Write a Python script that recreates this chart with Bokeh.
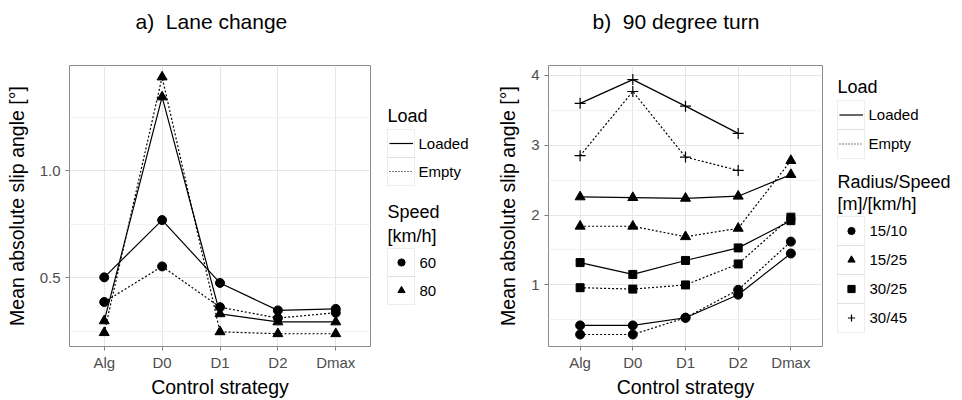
import math
from bokeh.plotting import figure
from bokeh.models import (FactorRange, Range1d, FixedTicker, Legend, LegendItem,
                          BoxAnnotation, Label, NumeralTickFormatter, Title)
from bokeh.layouts import row
from bokeh.embed import file_html
from bokeh.resources import INLINE

# ---------------- data ----------------
strategies = ["Alg", "D0", "D1", "D2", "Dmax"]
strategies_30_45 = ["Alg", "D0", "D1", "D2"]

# a) Lane change  (speed 60 / 80 km/h, loaded / empty)
lane_loaded_60 = [0.503, 0.770, 0.477, 0.349, 0.356]
lane_empty_60 = [0.388, 0.554, 0.364, 0.313, 0.338]
lane_loaded_80 = [0.300, 1.344, 0.333, 0.295, 0.295]
lane_empty_80 = [0.245, 1.437, 0.249, 0.240, 0.240]

# b) 90 degree turn (radius/speed)
turn_loaded_15_10 = [0.42, 0.42, 0.53, 0.86, 1.45]
turn_empty_15_10 = [0.29, 0.29, 0.53, 0.93, 1.62]
turn_loaded_15_25 = [2.26, 2.25, 2.24, 2.27, 2.58]
turn_empty_15_25 = [1.84, 1.84, 1.69, 1.81, 2.78]
turn_loaded_30_25 = [1.32, 1.15, 1.35, 1.53, 1.92]
turn_empty_30_25 = [0.96, 0.94, 1.00, 1.30, 1.97]
turn_loaded_30_45 = [3.60, 3.94, 3.56, 3.17]
turn_empty_30_45 = [2.85, 3.77, 2.83, 2.64]

load_labels = ["Loaded", "Empty"]
speed_labels = ["60", "80"]
radius_labels = ["15/10", "15/25", "30/25", "30/45"]

lane_yticks = [0.5, 1.0]
lane_yminor = [0.25, 0.75, 1.25]
turn_yticks = [1, 2, 3, 4]
turn_yminor = [0.5, 1.5, 2.5, 3.5]

FONT = "Liberation Sans"
H = 400
NAN = [math.nan]


def make_fig(title, y0, y1, ticks, minor, width, bl, toff, lab_standoff):
    p = figure(x_range=FactorRange(factors=strategies, range_padding=0.1,
                                   range_padding_units="absolute"),
               y_range=Range1d(y0, y1), width=width, height=H,
               min_border_left=bl, min_border_right=5, min_border_top=65,
               min_border_bottom=52, toolbar_location=None,
               output_backend="svg", title=title)
    p.title.text_font = FONT
    p.title.text_font_size = "21px"
    p.title.text_font_style = "normal"
    p.title.text_color = "black"
    p.title.align = "left"
    p.title.offset = toff
    # empty spacer between the title and the frame
    p.add_layout(Title(text="\u00a0", text_font_size="14px"), "above")
    p.outline_line_color = "#8C8C8C"
    p.outline_line_width = 1
    p.background_fill_color = "white"
    p.border_fill_color = "white"

    t = FixedTicker(ticks=ticks, minor_ticks=minor)
    p.yaxis.ticker = t
    p.ygrid.ticker = t
    p.xgrid.grid_line_color = "#E6E6E6"
    p.ygrid.grid_line_color = "#E6E6E6"
    p.ygrid.minor_grid_line_color = "#F2F2F2"

    for ax in (p.xaxis, p.yaxis):
        ax.axis_line_color = None
        ax.major_tick_in = 0
        ax.major_tick_out = 4
        ax.major_tick_line_color = "#7F7F7F"
        ax.minor_tick_line_color = None
        ax.major_label_text_font = FONT
        ax.major_label_text_font_size = "15px"
        ax.major_label_text_color = "#4D4D4D"
        ax.axis_label_text_font = FONT
        ax.axis_label_text_font_size = "19.5px"
        ax.axis_label_text_font_style = "normal"
        ax.axis_label_text_color = "black"
    p.xaxis.axis_label = "Control strategy"
    p.yaxis.axis_label = "Mean absolute slip angle [°]"
    p.xaxis.major_label_standoff = 3
    p.xaxis.axis_label_standoff = 2
    p.yaxis.major_label_standoff = 5
    p.yaxis.axis_label_standoff = lab_standoff
    return p


def add_series(p, xs, ys, dash, marker, size):
    p.line(x=xs, y=ys, line_color="black", line_width=1.2, line_dash=dash)
    if marker == "cross":
        p.scatter(x=xs, y=ys, marker=marker, size=size, line_color="black",
                  line_width=1.2, fill_color=None)
    else:
        p.scatter(x=xs, y=ys, marker=marker, size=size, fill_color="black",
                  line_color="black")


def legend_fig(width):
    lf = figure(width=width, height=H, x_range=Range1d(0, 1), y_range=Range1d(0, 1),
                toolbar_location=None, output_backend="svg", min_border=0,
                x_axis_location=None, y_axis_location=None)
    lf.outline_line_color = None
    lf.xgrid.visible = False
    lf.ygrid.visible = False
    return lf


def key_line(lf, dash):
    return lf.line(x=NAN, y=NAN, line_color="black", line_width=1.2, line_dash=dash)


def key_marker(lf, marker):
    if marker == "cross":
        return lf.scatter(x=NAN, y=NAN, marker=marker, line_color="black",
                          line_width=1.2, fill_color=None)
    return lf.scatter(x=NAN, y=NAN, marker=marker, fill_color="black", line_color="black")


def add_legend_block(lf, title_lines, title_ys, labels, renderers, box_x, bottom,
                     row_h, glyph_w, title_size):
    n = len(labels)
    box_w = 27
    for i in range(n):
        top = bottom + (n - i) * row_h
        lf.add_layout(BoxAnnotation(left=box_x, right=box_x + box_w, top=top,
                                    bottom=top - row_h, left_units="screen",
                                    right_units="screen", top_units="screen",
                                    bottom_units="screen", fill_alpha=0,
                                    line_color="#C4C4C4", line_width=1))
    for txt, ty in zip(title_lines, title_ys):
        lf.add_layout(Label(x=box_x, y=ty, x_units="screen", y_units="screen",
                            text=txt, text_font=FONT, text_font_size=title_size,
                            text_baseline="middle", text_align="left",
                            text_color="black"))
    gx = box_x + (box_w - glyph_w) / 2
    leg = Legend(items=[LegendItem(label=l, renderers=[r]) for l, r in zip(labels, renderers)],
                 location=(gx, bottom), glyph_width=glyph_w, glyph_height=row_h,
                 label_height=row_h, label_standoff=int(round(box_x + box_w + 5 - gx - glyph_w)),
                 spacing=0, padding=0, margin=0, border_line_color=None,
                 background_fill_alpha=0, label_text_font=FONT,
                 label_text_font_size="15px", label_text_color="black")
    lf.add_layout(leg)


# ---------------- panel a ----------------
p1 = make_fig("a)\u00a0 Lane change", 0.1806, 1.4907, lane_yticks, lane_yminor,
              375, 69, 66, 9)
p1.yaxis.formatter = NumeralTickFormatter(format="0.0")
add_series(p1, strategies, lane_loaded_60, "solid", "circle", 9)
add_series(p1, strategies, lane_empty_60, "2 2", "circle", 9)
add_series(p1, strategies, lane_loaded_80, "solid", "triangle", 10)
add_series(p1, strategies, lane_empty_80, "2 2", "triangle", 10)

leg1 = legend_fig(105)
add_legend_block(leg1, ["Load"], [231], load_labels,
                 [key_line(leg1, "solid"), key_line(leg1, "1 2")], 12, 161, 28, 24, "18px")
add_legend_block(leg1, ["Speed", "[km/h]"], [135, 111], speed_labels,
                 [key_marker(leg1, "circle"), key_marker(leg1, "triangle")],
                 12, 42, 28, 18, "18px")

# ---------------- panel b ----------------
p2 = make_fig("b)\u00a0 90 degree turn", 0.118, 4.142, turn_yticks, turn_yminor,
              347, 68, 44, 9)
add_series(p2, strategies, turn_loaded_15_10, "solid", "circle", 9)
add_series(p2, strategies, turn_empty_15_10, "2 2", "circle", 9)
add_series(p2, strategies, turn_loaded_15_25, "solid", "triangle", 10)
add_series(p2, strategies, turn_empty_15_25, "2 2", "triangle", 10)
add_series(p2, strategies, turn_loaded_30_25, "solid", "square", 8)
add_series(p2, strategies, turn_empty_30_25, "2 2", "square", 8)
add_series(p2, strategies_30_45, turn_loaded_30_45, "solid", "cross", 11)
add_series(p2, strategies_30_45, turn_empty_30_45, "2 2", "cross", 11)

leg2 = legend_fig(134)
add_legend_block(leg2, ["Load"], [260], load_labels,
                 [key_line(leg2, "solid"), key_line(leg2, "1 2")], 10, 188, 29, 24, "18px")
add_legend_block(leg2, ["Radius/Speed", "[m]/[km/h]"], [165, 143], radius_labels,
                 [key_marker(leg2, "circle"), key_marker(leg2, "triangle"),
                  key_marker(leg2, "square"), key_marker(leg2, "cross")],
                 10, 14, 29, 18, "18px")

layout = row(p1, leg1, p2, leg2)
open("out.html", "w").write(file_html(layout, INLINE))
